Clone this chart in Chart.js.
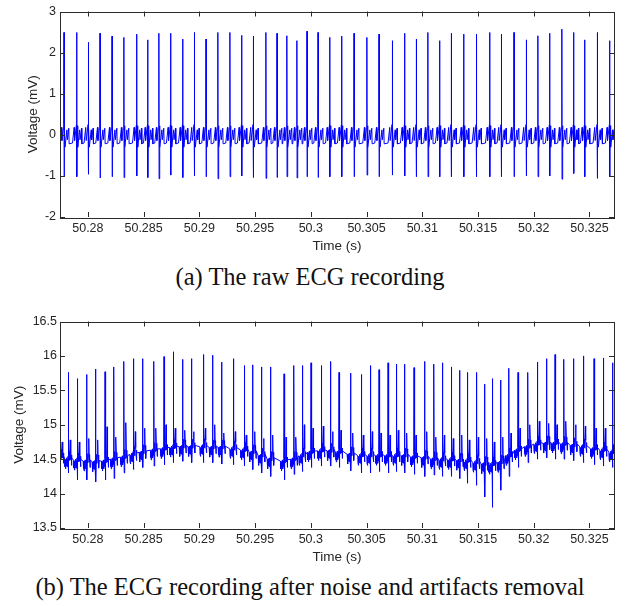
<!DOCTYPE html>
<html>
<head>
<meta charset="utf-8">
<script src="https://cdn.jsdelivr.net/npm/chart.js@4.4.1/dist/chart.umd.min.js"></script>
<style>
  html, body { margin: 0; padding: 0; background: #fff; }
  body { width: 628px; height: 606px; position: relative; overflow: hidden; }
  .plot { position: absolute; left: 0; width: 628px; height: 260px; }
  .caption {
    position: absolute; left: 0; width: 620px; text-align: center;
    font-family: "Liberation Serif", "Times New Roman", serif;
    font-size: 24.5px; line-height: 28px; color: #111;
  }
</style>
</head>
<body>
<div class="plot" style="top:0"><canvas id="raw" width="628" height="260"></canvas></div>
<div class="caption" style="top:263px">(a) The raw ECG recording</div>
<div class="plot" style="top:311px"><canvas id="clean" width="628" height="260"></canvas></div>
<div class="caption" style="top:573px">(b) The ECG recording after noise and artifacts removal</div>
<script>
// time axis, shared by both plots
const xMin = 50.2775, xMax = 50.3272;
const xTicks = [50.28, 50.285, 50.29, 50.295, 50.3, 50.305, 50.31, 50.315, 50.32, 50.325];
const xTickLabels = ['50.28', '50.285', '50.29', '50.295', '50.3', '50.305', '50.31', '50.315', '50.32', '50.325'];

// (a) raw recording
const yTicks1 = [-2, -1, 0, 1, 2, 3];
const yTickLabels1 = ['-2', '-1', '0', '1', '2', '3'];
const beatTimes1 = [
  50.27786, 50.27900, 50.28004, 50.28109, 50.28217, 50.28324, 50.28438, 50.28537, 50.28638, 50.28743,
  50.28851, 50.28955, 50.29060, 50.29167, 50.29275, 50.29380, 50.29484, 50.29598, 50.29697, 50.29786,
  50.29876, 50.29966, 50.30065, 50.30170, 50.30277, 50.30388, 50.30504, 50.30612, 50.30731, 50.30842,
  50.30946, 50.31051, 50.31156, 50.31260, 50.31372, 50.31485, 50.31605, 50.31709, 50.31823, 50.31933,
  50.32038, 50.32143, 50.32253, 50.32358, 50.32457, 50.32570, 50.32681
];
const rPeak1 = [
  2.49, 2.49, 2.25, 2.47, 2.40, 2.37, 2.45, 2.31, 2.47, 2.47,
  2.33, 2.49, 2.33, 2.49, 2.49, 2.42, 2.40, 2.49, 2.47, 2.41,
  2.29, 2.52, 2.49, 2.37, 2.40, 2.47, 2.37, 2.45, 2.29, 2.47,
  2.33, 2.49, 2.29, 2.47, 2.45, 2.45, 2.49, 2.45, 2.49, 2.31,
  2.41, 2.47, 2.57, 2.49, 2.31, 2.49, 2.29
];
const sTrough1 = [
  -1.02, -1.02, -0.96, -1.05, -1.02, -1.04, -1.00, -1.04, -1.07, -0.98,
  -1.04, -1.00, -1.02, -1.07, -1.02, -1.00, -1.04, -1.06, -1.04, -1.02,
  -1.05, -1.02, -1.04, -1.02, -1.02, -1.02, -0.98, -1.02, -0.98, -1.00,
  -1.02, -1.02, -1.02, -1.02, -1.02, -1.02, -1.02, -1.02, -1.02, -1.00,
  -1.02, -1.00, -1.08, -0.94, -1.02, -1.06, -1.02
];
// one beat of the raw trace: [seconds from R, mV] ('R','S' = per-beat values)
const beatShape1 = [
  [-0.00038, -0.20], [-0.00023, 0.18], [-0.00019, -0.14], [-0.00007, 0.14], [-0.00002, 0.25],
  [0, 'R'], [0.00001, 'S'], [0.00004, 0.22], [0.00009, -0.30], [0.00026, 0.12],
  [0.00030, -0.12], [0.00043, 0.16], [0.00046, -0.22]
];

// (b) after noise and artifacts removal
const yTicks2 = [13.5, 14, 14.5, 15, 15.5, 16, 16.5];
const yTickLabels2 = ['13.5', '14', '14.5', '15', '15.5', '16', '16.5'];
const beatTimes2 = [
  50.27752, 50.27824, 50.27905, 50.27990, 50.28070, 50.28154, 50.28234, 50.28324, 50.28408, 50.28492,
  50.28593, 50.28683, 50.28766, 50.28851, 50.28931, 50.29036, 50.29120, 50.29201, 50.29305, 50.29403,
  50.29479, 50.29559, 50.29640, 50.29760, 50.29849, 50.29924, 50.30002, 50.30094, 50.30178, 50.30253,
  50.30358, 50.30453, 50.30534, 50.30612, 50.30693, 50.30767, 50.30842, 50.30926, 50.31022, 50.31105,
  50.31180, 50.31260, 50.31336, 50.31404, 50.31485, 50.31560, 50.31628, 50.31704, 50.31778, 50.31859,
  50.31948, 50.32032, 50.32116, 50.32191, 50.32271, 50.32358, 50.32445, 50.32541, 50.32624, 50.32706
];
const rPeak2 = [
  14.82, 15.76, 15.67, 15.73, 15.81, 15.77, 15.84, 15.92, 15.96, 15.96,
  15.92, 15.99, 16.06, 15.95, 15.96, 16.02, 16.01, 15.91, 15.96, 15.86,
  15.87, 15.84, 15.84, 15.74, 15.86, 15.86, 15.90, 15.86, 15.92, 15.76,
  15.75, 15.73, 15.86, 15.80, 15.90, 15.88, 15.88, 15.83, 15.92, 15.88,
  15.90, 15.84, 15.79, 15.76, 15.76, 15.59, 15.67, 15.65, 15.82, 15.76,
  15.76, 15.91, 15.96, 16.02, 15.95, 15.96, 16.00, 15.96, 15.97, 15.90
];
const baseline2 = [
  14.48, 14.45, 14.43, 14.42, 14.41, 14.42, 14.45, 14.48, 14.52, 14.55,
  14.58, 14.60, 14.62, 14.63, 14.63, 14.63, 14.62, 14.62, 14.60, 14.58,
  14.55, 14.50, 14.45, 14.42, 14.45, 14.50, 14.55, 14.57, 14.57, 14.55,
  14.52, 14.50, 14.50, 14.50, 14.50, 14.50, 14.50, 14.48, 14.47, 14.45,
  14.44, 14.44, 14.43, 14.42, 14.40, 14.38, 14.37, 14.40, 14.50, 14.58,
  14.63, 14.67, 14.68, 14.68, 14.67, 14.65, 14.63, 14.60, 14.58, 14.55
];
const sTrough2 = [
  14.35, 14.30, 14.20, 14.20, 14.17, 14.20, 14.22, 14.30, 14.35, 14.38,
  14.40, 14.42, 14.45, 14.47, 14.45, 14.45, 14.45, 14.43, 14.42, 14.40,
  14.35, 14.30, 14.25, 14.20, 14.28, 14.32, 14.38, 14.40, 14.40, 14.38,
  14.33, 14.30, 14.30, 14.32, 14.30, 14.32, 14.30, 14.28, 14.25, 14.27,
  14.25, 14.25, 14.22, 14.15, 14.12, 13.95, 13.80, 14.05, 14.25, 14.38,
  14.45, 14.50, 14.52, 14.50, 14.50, 14.48, 14.45, 14.42, 14.40, 14.38
];
const tWave2 = [
  14.75, 14.78, 14.75, 14.80, 14.78, 14.97, 14.82, 15.03, 14.90, 14.95,
  14.95, 15.00, 14.95, 14.92, 14.90, 14.95, 15.00, 14.88, 14.90, 14.85,
  14.90, 14.80, 14.85, 14.82, 14.82, 15.00, 14.95, 14.98, 14.90, 14.92,
  14.88, 14.85, 14.90, 14.88, 14.85, 14.92, 14.88, 14.85, 14.90, 14.82,
  14.85, 14.80, 14.85, 14.78, 14.82, 14.80, 14.75, 14.82, 14.88, 14.95,
  15.00, 15.05, 15.02, 15.00, 15.05, 15.00, 14.98, 14.95, 14.95, 14.90
];
// one beat of the cleaned trace: [seconds from R, mV above baseline] ('R','S','T' = per-beat values)
const beatShape2 = [
  [-0.00032, 0.05], [-0.000295, -0.06], [-0.00027, 0.04], [-0.000245, -0.09], [-0.00022, 0.03],
  [-0.000195, -0.05], [-0.00017, 0.06], [-0.000145, -0.04], [-0.00012, 0.07], [-0.000095, -0.06],
  [-0.00007, 0.05], [-0.000045, -0.03], [-0.00002, 0.09], [0, 'R'], [0.00002, 'S'],
  [0.00005, 0.07], [0.00008, 0.16], [0.00011, 0.03], [0.00014, 0.13], [0.00018, 'T'],
  [0.00021, 0.15], [0.00024, 0.04], [0.00027, 0.11], [0.000295, -0.04], [0.00032, 0.07]
];

function tracePoints(times, shape, r, s, t, base) {
  const pts = [];
  times.forEach((tm, i) => {
    const b = base ? base[i] : 0;
    shape.forEach(([dt, lv]) => {
      let y;
      if (lv === 'R') y = r[i];
      else if (lv === 'S') y = s[i];
      else if (lv === 'T') y = t[i];
      else y = b + lv;
      pts.push({ x: tm + dt, y: y });
    });
  });
  return pts.sort((a, b) => a.x - b.x);
}

const frameColor = '#2b2b2b';

// MATLAB style box with inward ticks
const boxTicks = {
  id: 'boxTicks',
  afterDraw(chart) {
    const { ctx, chartArea: a, scales } = chart;
    const len = 5;
    ctx.save();
    ctx.strokeStyle = frameColor;
    ctx.lineWidth = 1;
    ctx.beginPath();
    scales.x.ticks.forEach(tk => {
      const px = Math.round(scales.x.getPixelForValue(tk.value)) + 0.5;
      ctx.moveTo(px, a.bottom); ctx.lineTo(px, a.bottom - len);
      ctx.moveTo(px, a.top); ctx.lineTo(px, a.top + len);
    });
    scales.y.ticks.forEach(tk => {
      const py = Math.round(scales.y.getPixelForValue(tk.value)) + 0.5;
      ctx.moveTo(a.left, py); ctx.lineTo(a.left + len, py);
      ctx.moveTo(a.right, py); ctx.lineTo(a.right - len, py);
    });
    ctx.stroke();
    ctx.strokeRect(Math.round(a.left) + 0.5, Math.round(a.top) + 0.5,
      Math.round(a.right - a.left), Math.round(a.bottom - a.top));
    ctx.restore();
  }
};

function makeChart(id, points, yMin, yMax, yTicks, yTickLabels, yTitlePad, yLabelPad) {
  const tickFont = { family: '"Liberation Sans", Arial, Helvetica, sans-serif', size: 12.5 };
  const titleFont = { family: '"Liberation Sans", Arial, Helvetica, sans-serif', size: 13.5 };
  return new Chart(document.getElementById(id), {
    type: 'line',
    data: {
      datasets: [{
        data: points,
        borderColor: '#0000ff',
        borderWidth: 1,
        pointRadius: 0,
        tension: 0,
        fill: false
      }]
    },
    options: {
      responsive: false,
      animation: false,
      parsing: false,
      normalized: true,
      layout: { padding: { left: 0, right: 14, top: 7, bottom: 0 } },
      plugins: {
        legend: { display: false },
        tooltip: { enabled: false }
      },
      scales: {
        x: {
          type: 'linear',
          min: xMin,
          max: xMax,
          afterBuildTicks: axis => { axis.ticks = xTicks.map(v => ({ value: v })); },
          afterFit: axis => { axis.height = 43; },
          grid: { display: false, drawTicks: false },
          border: { display: false },
          ticks: {
            autoSkip: false,
            maxRotation: 0,
            padding: 4,
            color: '#262626',
            font: tickFont,
            callback: (value, index) => xTickLabels[index]
          },
          title: {
            display: true,
            text: 'Time (s)',
            color: '#262626',
            font: titleFont,
            padding: { top: 0, bottom: 6 }
          }
        },
        y: {
          type: 'linear',
          min: yMin,
          max: yMax,
          afterBuildTicks: axis => { axis.ticks = yTicks.map(v => ({ value: v })); },
          afterFit: axis => { axis.width = 60; },
          grid: { display: false, drawTicks: false },
          border: { display: false },
          ticks: {
            padding: yLabelPad,
            color: '#262626',
            font: tickFont,
            callback: (value, index) => yTickLabels[index]
          },
          title: {
            display: true,
            text: 'Voltage (mV)',
            color: '#262626',
            font: titleFont,
            padding: { top: yTitlePad, bottom: 0 }
          }
        }
      }
    },
    plugins: [boxTicks]
  });
}

makeChart('raw', tracePoints(beatTimes1, beatShape1, rPeak1, sTrough1, null, null),
  -2, 3, yTicks1, yTickLabels1, 25, 4);
makeChart('clean', tracePoints(beatTimes2, beatShape2, rPeak2, sTrough2, tWave2, baseline2),
  13.5, 16.5, yTicks2, yTickLabels2, 11, 3);
</script>
</body>
</html>
